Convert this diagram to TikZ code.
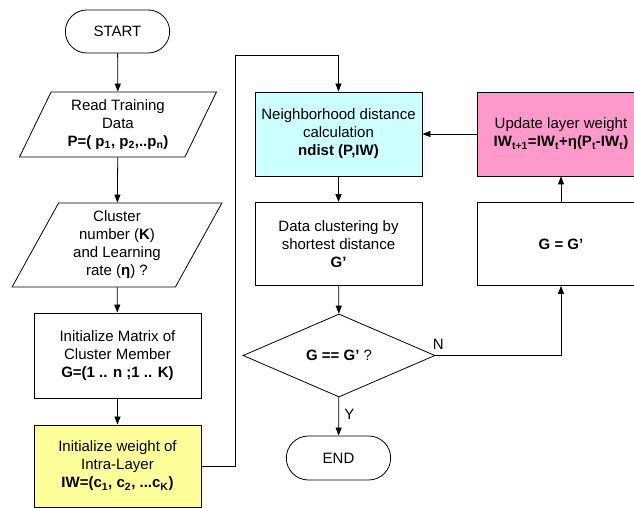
\documentclass[tikz,border=0pt]{standalone}
\usepackage{fontspec}
\setmainfont{Liberation Sans}
\usetikzlibrary{arrows.meta,positioning,shapes.geometric,shapes.misc,calc}
\definecolor{initfill}{HTML}{FFFF99}
\definecolor{distfill}{HTML}{CCFFFF}
\definecolor{updfill}{HTML}{FF99CC}
\tikzset{
terminal/.style={rounded rectangle, draw, minimum width=111pt, minimum height=43pt},
inout/.style={trapezium, trapezium left angle=#1, trapezium right angle=180-#1, trapezium stretches=true, draw, align=center, inner sep=1pt},
inout/.default=64,
process/.style={rectangle, draw, minimum width=167pt, minimum height=84pt, align=center},
decision/.style={diamond, draw, minimum width=192pt, minimum height=83pt, inner sep=0pt, align=center},
arr/.style={-{Triangle[length=8pt,width=6pt]}, line width=0.8pt},
}
\tikzstyle{every node}=[font=\fontsize{15}{18}\selectfont, line width=0.8pt]

\begin{document}
\begin{tikzpicture}[x=1pt, y=1pt]
        \useasboundingbox (0,0) rectangle (634,508);
        \clip (0,0) rectangle (634,508);

        % left column
        \node[terminal] (start) at (117.5,476.5) {START};
        \node[inout=65, minimum width=197pt, minimum height=65pt] (read) at (118,383.5)
            {Read Training\\Data\\\textbf{P=( p\textsubscript{1}, p\textsubscript{2},..p\textsubscript{n})}};
        \node[inout=63, minimum width=210pt, minimum height=84pt] (param) at (117,263)
            {Cluster\\number (\textbf{K})\\and Learning\\rate (\textbf{η}) ?};
        \node[process, minimum height=85pt] (initG) at (117.5,152.5)
            {Initialize Matrix of\\Cluster Member\\\textbf{G=(1 .. n ;1 .. K)}};
        \node[process, fill=initfill, minimum height=82pt] (initIW) at (117.5,42)
            {Initialize weight of\\Intra-Layer\\\textbf{IW=(c\textsubscript{1}, c\textsubscript{2}, ...c\textsubscript{K})}};

        % middle column
        \node[process, fill=distfill] (ndist) at (338.5,374)
            {Neighborhood distance\\calculation\\\textbf{ndist (P,IW)}};
        \node[process, minimum height=83pt] (clust) at (338.5,264)
            {Data clustering by\\shortest distance\\\textbf{G'}};
        \node[decision] (test) at (339,152.5) {\textbf{G == G'} ?};
        \node[terminal, minimum height=44pt] (end) at (338.5,50) {END};

        % right column
        \node[process, fill=updfill] (upd) at (561,374)
            {Update layer weight\\\textbf{IW\textsubscript{t+1}=IW\textsubscript{t}+η(P\textsubscript{t}-IW\textsubscript{t})}};
        \node[process, minimum height=83pt] (geq) at (561,264) {\textbf{G = G'}};

        \draw[arr] (start) -- (read);
        \draw[arr] (read) -- (param);
        \draw[arr] (param) -- (initG);
        \draw[arr] (initG) -- (initIW);
        \draw[arr] (initIW.east) -- ++(34,0) |- ($(ndist.north)+(0,36)$) -- (ndist.north);
        \draw[arr] (ndist) -- (clust);
        \draw[arr] (clust) -- (test);
        \draw[arr] (test) -- (end) node[pos=.45, right, xshift=2pt] {Y};
        \draw[arr] (test.east) node[above, xshift=3pt, yshift=2pt] {N} -| (geq.south);
        \draw[arr] (geq) -- (upd);
        \draw[arr] (upd) -- (ndist);
    \end{tikzpicture}
\end{document}
